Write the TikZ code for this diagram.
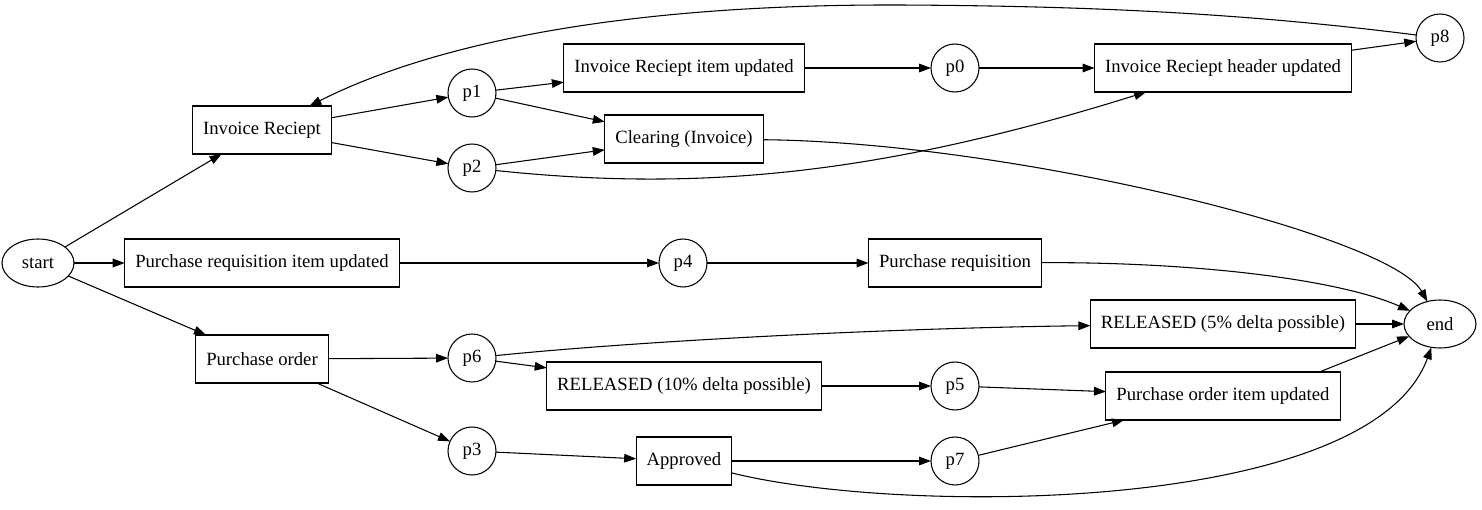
\documentclass[tikz,border=0pt]{standalone}
\usepackage{fontspec}
\setmainfont{Liberation Serif}
\usetikzlibrary{arrows.meta,shapes.geometric}

\begin{document}
\begin{tikzpicture}[x=0.75pt,y=-0.75pt,
  trans/.style={rectangle,draw,line width=0.8pt,minimum height=36pt,inner xsep=7.9pt,outer sep=0pt,font=\fontsize{14}{16}\selectfont},
  place/.style={circle,draw,line width=0.8pt,minimum size=36pt,inner sep=0pt,outer sep=0pt,font=\fontsize{14}{16}\selectfont},
  term/.style={ellipse,draw,line width=0.8pt,minimum width=54pt,minimum height=36pt,inner sep=0pt,outer sep=0pt,font=\fontsize{14}{16}\selectfont},
  arc/.style={-{Triangle[length=9pt,width=6.5pt]},line width=0.8pt}]
  \useasboundingbox (0,0) rectangle (1482,510);

  \node[term] (start) at (38,263) {start};
  \node[trans] (IR) at (262,130) {Invoice Reciept};
  \node[trans] (PRI) at (262,263) {Purchase requisition item updated};
  \node[trans] (PO) at (262,359) {Purchase order};
  \node[place] (p1) at (472,93) {p1};
  \node[place] (p2) at (472,168) {p2};
  \node[place] (p6) at (472,358) {p6};
  \node[place] (p3) at (472,451) {p3};
  \node[trans] (IRI) at (684,68) {Invoice Reciept item updated};
  \node[trans] (Clr) at (684,139) {Clearing (Invoice)};
  \node[place] (p4) at (683,263) {p4};
  \node[trans] (R10) at (684,386) {RELEASED (10\% delta possible)};
  \node[trans] (App) at (684,461) {Approved};
  \node[place] (p0) at (955,68) {p0};
  \node[trans] (PR) at (955,263) {Purchase requisition};
  \node[place] (p5) at (955,386) {p5};
  \node[place] (p7) at (955,461) {p7};
  \node[trans] (IRH) at (1223,68) {Invoice Reciept header updated};
  \node[trans] (R5) at (1223,324) {RELEASED (5\% delta possible)};
  \node[trans] (POI) at (1223,396) {Purchase order item updated};
  \node[place] (p8) at (1440,38) {p8};
  \node[term] (fin) at (1440,324) {end};

  \draw[arc] (start) -- (IR);
  \draw[arc] (start) -- (PRI);
  \draw[arc] (start) -- (PO);
  \draw[arc] (IR) -- (p1);
  \draw[arc] (IR) -- (p2);
  \draw[arc] (p1) -- (IRI);
  \draw[arc] (p1) -- (Clr);
  \draw[arc] (p2) -- (Clr);
  \draw[arc] (p2) .. controls (700,192) and (880,175) .. (IRH);
  \draw[arc] (IRI) -- (p0);
  \draw[arc] (p0) -- (IRH);
  \draw[arc] (IRH) -- (p8);
  \draw[arc] (p8) .. controls (1250,14) and (1100,6) .. (900,5)
    .. controls (600,4) and (420,50) .. (IR);
  \draw[arc] (Clr) .. controls (1010,142) and (1390,235) .. (fin);
  \draw[arc] (PRI) -- (p4);
  \draw[arc] (p4) -- (PR);
  \draw[arc] (PR) .. controls (1200,262) and (1340,280) .. (fin);
  \draw[arc] (PO) -- (p6);
  \draw[arc] (PO) -- (p3);
  \draw[arc] (p6) .. controls (650,340) and (900,328) .. (R5);
  \draw[arc] (p6) -- (R10);
  \draw[arc] (R5) -- (fin);
  \draw[arc] (R10) -- (p5);
  \draw[arc] (p5) -- (POI);
  \draw[arc] (p3) -- (App);
  \draw[arc] (App) -- (p7);
  \draw[arc] (p7) -- (POI);
  \draw[arc] (POI.14) -- (fin);
  \draw[arc] (App) .. controls (900,515) and (1370,515) .. (fin);
\end{tikzpicture}
\end{document}
